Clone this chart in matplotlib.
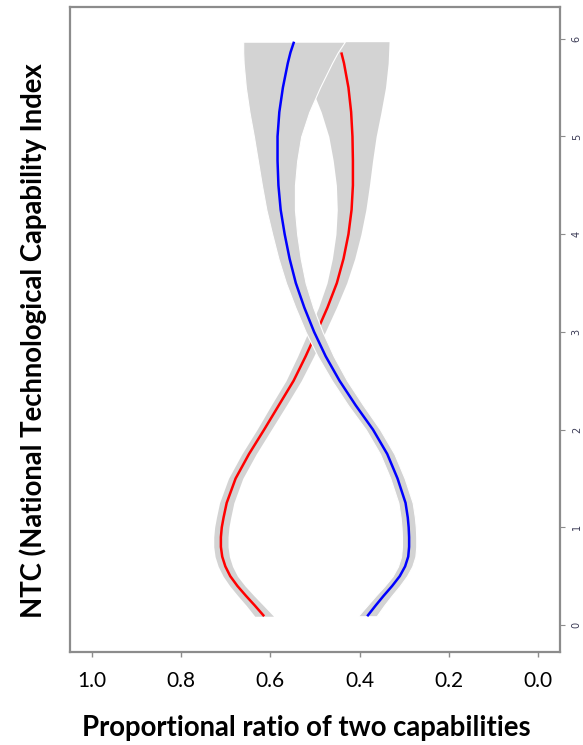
import numpy as np
import matplotlib
matplotlib.use("Agg")
import matplotlib.pyplot as plt

# NTC index (vertical axis)
ntc = [0.09, 0.2, 0.3, 0.4, 0.5, 0.6, 0.7, 0.8, 0.9, 1.0, 1.1, 1.25, 1.5,
       1.75, 2.0, 2.25, 2.5, 2.75, 3.0, 3.25, 3.5, 3.75, 4.0, 4.25, 4.5,
       4.75, 5.0, 5.25, 5.5, 5.75, 5.86, 5.97]

# proportional ratio, blue capability
blue_ratio = [0.383, 0.364, 0.346, 0.327, 0.310, 0.298, 0.291, 0.289, 0.289,
              0.290, 0.292, 0.297, 0.315, 0.338, 0.370, 0.409, 0.445, 0.476,
              0.502, 0.524, 0.543, 0.557, 0.568, 0.577, 0.582, 0.584, 0.584,
              0.580, 0.572, 0.561, 0.555, 0.547]

# proportional ratio, red capability
red_ratio = [0.614, 0.635, 0.655, 0.674, 0.690, 0.701, 0.708, 0.711, 0.711,
             0.709, 0.705, 0.698, 0.678, 0.648, 0.614, 0.581, 0.548, 0.521,
             0.496, 0.472, 0.451, 0.436, 0.425, 0.418, 0.415, 0.415, 0.416,
             0.419, 0.425, 0.435, 0.441, 0.448]

# confidence half-width of each band
band_half = [0.021, 0.019, 0.018, 0.017, 0.016, 0.016, 0.016, 0.016, 0.016,
             0.016, 0.016, 0.016, 0.016, 0.016, 0.016, 0.017, 0.017, 0.018,
             0.019, 0.020, 0.022, 0.025, 0.028, 0.032, 0.037, 0.044, 0.053,
             0.067, 0.083, 0.099, 0.106, 0.114]

# highest NTC value where the red line is drawn
red_line_top = 5.86

x_ticks = [1.0, 0.8, 0.6, 0.4, 0.2, 0.0]
x_ticklabels = ["1.0", "0.8", "0.6", "0.4", "0.2", "0.0"]
y_ticks = [0, 1, 2, 3, 4, 5, 6]

W, H = 583, 745
fig = plt.figure(figsize=(W / 100, H / 100), dpi=100)
ax = fig.add_axes([70 / W, 1 - 652 / H, (560 - 70) / W, (652 - 7) / H])

y = np.array(ntc)
b = np.array(blue_ratio)
r = np.array(red_ratio)
hw = np.array(band_half)
keep = y <= red_line_top

ax.fill_betweenx(y, r - hw, r + hw, color="#D3D3D3", linewidth=0, zorder=1)
ax.plot(r[keep], y[keep], color="#FF0000", lw=1.8, zorder=2,
        solid_capstyle="butt", solid_joinstyle="round")
ax.fill_betweenx(y, b - hw, b + hw, facecolor="#D3D3D3", edgecolor="white",
                 linewidth=0.8, zorder=3)
ax.plot(b, y, color="#0000FF", lw=1.8, zorder=4,
        solid_capstyle="butt", solid_joinstyle="round")

ax.set_xlim(1.0493, -0.0493)
ax.set_ylim(-0.276, 6.325)

for s in ax.spines.values():
    s.set_color("#8C8C8C")
    s.set_linewidth(1.6)

ax.set_xticks(x_ticks)
ax.set_xticklabels(x_ticklabels, fontsize=15, family="Lato", color="black")
ax.tick_params(axis="x", direction="out", length=3.5, width=1.0,
               color="#8C8C8C", pad=10)

ax.yaxis.tick_right()
ax.set_yticks(y_ticks)
ax.set_yticklabels([str(v) for v in y_ticks], fontsize=7, rotation=90,
                   color="#3A3A55", va="center")
ax.tick_params(axis="y", direction="out", length=3.5, width=0.8,
               color="#8C8C8C", pad=5)

fig.text(306.5 / W, 1 - 728 / H, "Proportional ratio of two capabilities",
         fontsize=19.8, fontweight="bold", family="Lato", ha="center",
         va="center")
fig.text(33 / W, 1 - 341 / H, "NTC (National Technological Capability Index",
         fontsize=19.8, fontweight="bold", family="Lato", ha="center",
         va="center", rotation=90)

fig.savefig("out.png", dpi=100)
